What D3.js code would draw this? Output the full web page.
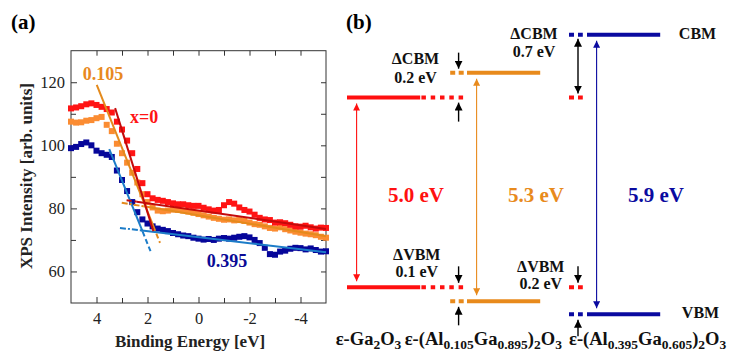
<!DOCTYPE html>
<html>
<head>
<meta charset="utf-8">
<script src="https://cdn.jsdelivr.net/npm/d3@7"></script>
<style>
  body { margin: 0; background: #fff; }
  text { font-family: "Liberation Serif", "Times New Roman", serif; }
</style>
</head>
<body>
<svg id="chart" width="736" height="356"></svg>
<script>
// ---------- panel (a) data: XPS valence band spectra ----------
// binding energy grid (eV)
var energy = [5.0, 4.8, 4.6, 4.4, 4.2, 4.0, 3.8, 3.6, 3.4, 3.2, 3.0, 2.8, 2.6, 2.4, 2.2, 2.0, 1.8, 1.6, 1.4, 1.2,
  1.0, 0.8, 0.6, 0.4, 0.2, 0.0, -0.2, -0.4, -0.6, -0.8, -1.0, -1.2, -1.4, -1.6, -1.8, -2.0, -2.2, -2.4, -2.6, -2.8,
  -3.0, -3.2, -3.4, -3.6, -3.8, -4.0, -4.2, -4.4, -4.6, -4.8, -5.0];

var intensityX0 = [111.7, 112.0, 112.4, 113.0, 113.3, 112.8, 112.2, 111.5, 110.4, 107.5, 105.0, 101.5, 97.5, 92.5, 88.0, 84.5, 83.2, 82.7, 82.4, 82.0,
  81.6, 81.3, 81.3, 81.0, 80.8, 80.8, 80.2, 79.7, 79.3, 79.5, 81.0, 82.0, 81.5, 80.3, 79.5, 79.0, 78.0, 77.0, 76.5, 76.3,
  75.5, 75.6, 75.3, 74.8, 74.3, 74.2, 74.5, 74.0, 73.6, 73.9, 73.8];

var intensityX0105 = [107.5, 107.2, 107.3, 107.8, 108.0, 108.6, 109.0, 106.5, 104.5, 100.5, 97.5, 94.5, 91.3, 88.2, 84.5, 82.0, 80.3, 79.3, 79.1, 79.3,
  79.6, 79.5, 79.3, 79.0, 78.6, 78.2, 77.8, 77.4, 77.0, 76.7, 76.4, 76.5, 76.2, 76.3, 76.0, 75.5, 75.0, 74.8, 74.3, 73.8,
  73.6, 74.0, 73.4, 73.0, 72.6, 72.3, 72.0, 71.8, 71.5, 71.0, 70.7];

var intensityX0395 = [99.1, 99.5, 100.4, 100.9, 100.0, 98.3, 97.5, 97.0, 96.3, 92.0, 89.0, 85.5, 82.0, 78.8, 76.5, 75.2, 74.3, 73.6, 73.2, 72.8,
  72.2, 71.8, 71.4, 71.2, 70.7, 70.4, 70.1, 70.3, 70.0, 70.4, 70.6, 70.4, 70.7, 71.0, 71.2, 70.8, 70.0, 69.0, 67.5, 65.5,
  65.3, 66.3, 66.6, 67.2, 67.5, 67.4, 67.0, 67.3, 66.8, 66.3, 66.4];

// linear fits: [energy, intensity] end points, and where the dashed part starts/ends
var steepStart = [[3.27, 111.8], [3.99, 119.2], [3.50, 98.8]];
var steepEnd = [[1.77, 72.8], [1.51, 69.1], [1.88, 66.4]];
var steepSolidTo = [1.77, 1.77, 2.19];
var flatStart = [[2.82, 82.6], [3.01, 81.8], [3.08, 73.8]];
var flatEnd = [[-5, 73.5], [-5, 71.2], [-5, 66.1]];
var flatSolidFrom = [2.42, 2.16, 2.30];

var seriesLabels = ["x=0", "0.105", "0.395"];
var labelPos = [[2.69, 107.0], [4.54, 120.7], [-0.32, 61.5]];

var xMajor = [4, 2, 0, -2, -4];
var xMinor = [3, 1, -1, -3];
var yMajor = [60, 80, 100, 120];
var yMinor = [70, 90, 110];

// ---------- panel (b) data: band alignment ----------
var bandGap = ["5.0 eV", "5.3 eV", "5.9 eV"];
var cbmLevel = [21.7, 24.2, 28.0];   // schematic level, not to scale
var vbmLevel = [2.7, 1.3, 0.0];
var dCbmText = ["0.2 eV", "0.7 eV"];
var dVbmText = ["0.1 eV", "0.2 eV"];

var markColor = ["#ff1414", "#fb8c32", "#06069a"];
var fitColor = ["#c40a0a", "#e48a1c", "#1c7cc8"];
var textColor = ["#ff1414", "#e8891e", "#0a0a96"];
var bandColor = ["#ff1010", "#e88a1c", "#0a0aa0"];

var svg = d3.select("#chart");

// ========== panel (a) ==========
var x = d3.scaleLinear().domain([5, -5]).range([71, 326]);
var y = d3.scaleLinear().domain([50, 130]).range([303, 50.7]);

svg.append("text").attr("x", 11).attr("y", 29)
  .style("font-size", "21px").style("font-weight", "bold").text("(a)");

function fmt(d) { return String(d); }

// bottom
svg.append("g").attr("transform", "translate(0,303)")
  .call(d3.axisBottom(x).tickValues(xMajor).tickSizeInner(-6).tickSizeOuter(0).tickPadding(9).tickFormat(fmt));
svg.append("g").attr("transform", "translate(0,303)")
  .call(d3.axisBottom(x).tickValues(xMinor).tickSizeInner(-5).tickSizeOuter(0).tickFormat(""));
// top
svg.append("g").attr("transform", "translate(0,50.7)")
  .call(d3.axisTop(x).tickValues(xMajor.concat(xMinor)).tickSizeInner(-5).tickSizeOuter(0).tickFormat(""));
// left
svg.append("g").attr("transform", "translate(71,0)")
  .call(d3.axisLeft(y).tickValues(yMajor).tickSizeInner(-6).tickSizeOuter(0).tickPadding(6).tickFormat(fmt));
svg.append("g").attr("transform", "translate(71,0)")
  .call(d3.axisLeft(y).tickValues(yMinor).tickSizeInner(-5).tickSizeOuter(0).tickFormat(""));
// right
svg.append("g").attr("transform", "translate(326,0)")
  .call(d3.axisRight(y).tickValues(yMajor.concat(yMinor)).tickSizeInner(-5).tickSizeOuter(0).tickFormat(""));

svg.selectAll(".domain").remove();
svg.selectAll(".tick line").attr("stroke", "#333");
svg.selectAll(".tick text").style("font-family", "'Liberation Serif', serif")
  .style("font-size", "16.5px").attr("fill", "#222");

svg.append("rect").attr("x", 71).attr("y", 50.7).attr("width", 255).attr("height", 252.3)
  .attr("fill", "none").attr("stroke", "#333").attr("stroke-width", 1);

// data markers
var allSeries = [intensityX0395, intensityX0105, intensityX0];
var allColors = [markColor[2], markColor[1], markColor[0]];
allSeries.forEach(function(vals, k) {
  svg.append("g").selectAll("rect")
    .data(energy.map(function(e, i) { return [e, vals[i]]; }))
    .enter().append("rect")
    .attr("x", function(d) { return x(d[0]) - 3; })
    .attr("y", function(d) { return y(d[1]) - 3; })
    .attr("width", 6).attr("height", 6)
    .attr("fill", allColors[k]);
});

// fit lines
function along(p0, p1, e) {
  var t = (e - p0[0]) / (p1[0] - p0[0]);
  return [e, p0[1] + t * (p1[1] - p0[1])];
}
function seg(p0, p1, color, dash) {
  svg.append("line")
    .attr("x1", x(p0[0])).attr("y1", y(p0[1]))
    .attr("x2", x(p1[0])).attr("y2", y(p1[1]))
    .attr("stroke", color).attr("stroke-width", 2)
    .attr("stroke-dasharray", dash || null);
}
[2, 1, 0].forEach(function(i) {
  var split = along(steepStart[i], steepEnd[i], steepSolidTo[i]);
  seg(steepStart[i], split, fitColor[i]);
  if (steepSolidTo[i] > steepEnd[i][0]) seg(split, steepEnd[i], fitColor[i], "5,3");
  var fsplit = along(flatStart[i], flatEnd[i], flatSolidFrom[i]);
  seg(flatStart[i], fsplit, fitColor[i], i === 0 ? "5,3" : "6,2,2,2");
  seg(fsplit, flatEnd[i], fitColor[i]);
});

seriesLabels.forEach(function(t, i) {
  svg.append("text").attr("x", x(labelPos[i][0])).attr("y", y(labelPos[i][1]))
    .style("font-size", "18px").style("font-weight", "bold")
    .attr("fill", textColor[i]).text(t);
});

svg.append("text").attr("x", 190).attr("y", 346.5).attr("text-anchor", "middle")
  .style("font-size", "17px").style("font-weight", "bold").attr("fill", "#222")
  .text("Binding Energy [eV]");
svg.append("text").attr("transform", "translate(32,176) rotate(-90)").attr("text-anchor", "middle")
  .style("font-size", "17px").style("font-weight", "bold").attr("fill", "#222")
  .text("XPS Intensity [arb. units]");

// ========== panel (b) ==========
var bx = d3.scaleLinear().domain([0, 3]).range([347, 707]);
var by = d3.scaleLinear().domain([0, 28]).range([314.3, 34.7]);

svg.append("text").attr("x", 346).attr("y", 29)
  .style("font-size", "21px").style("font-weight", "bold").text("(b)");

var defs = svg.append("defs");
function arrowMarker(id, color, w, l) {
  defs.append("marker").attr("id", id)
    .attr("viewBox", "0 0 10 10").attr("refX", 10).attr("refY", 5)
    .attr("markerUnits", "userSpaceOnUse")
    .attr("markerWidth", l).attr("markerHeight", w)
    .attr("orient", "auto-start-reverse")
    .append("path").attr("d", "M0,0L10,5L0,10z").attr("fill", color);
}
bandColor.forEach(function(c, i) { arrowMarker("ah" + i, c, 7, 8); });
arrowMarker("ahk", "#000", 8, 8);

function hline(x1, x2, yy, color, dash) {
  svg.append("line").attr("x1", x1).attr("x2", x2).attr("y1", yy).attr("y2", yy)
    .attr("stroke", color).attr("stroke-width", 4)
    .attr("stroke-dasharray", dash || null);
}

// band edges
[0, 1, 2].forEach(function(i) {
  hline(bx(i), bx(i + 0.61), by(cbmLevel[i]), bandColor[i]);
  hline(bx(i), bx(i + 0.61), by(vbmLevel[i]), bandColor[i]);
});
// dashed continuations
[cbmLevel[0], vbmLevel[0]].forEach(function(l) {
  hline(bx(0.62), bx(0.975), by(l), bandColor[0], "4.5,4.8");
  hline(bx(1.85), bx(1.965), by(l), bandColor[0], "5,4");
});
[cbmLevel[1], vbmLevel[1]].forEach(function(l) {
  hline(bx(0.86), bx(0.975), by(l), bandColor[1], "5,3.5");
});
[cbmLevel[2], vbmLevel[2]].forEach(function(l) {
  hline(bx(1.85), bx(1.965), by(l), bandColor[2], "5,4");
});

// band gap arrows
[0, 1, 2].forEach(function(i) {
  var ax = bx(i + 0.08);
  svg.append("line").attr("x1", ax).attr("x2", ax)
    .attr("y1", by(cbmLevel[i]) + 6).attr("y2", by(vbmLevel[i]) - 6)
    .attr("stroke", bandColor[i]).attr("stroke-width", 1.1)
    .attr("marker-start", "url(#ah" + i + ")").attr("marker-end", "url(#ah" + i + ")");
  svg.append("text").attr("x", bx(i + 0.575)).attr("y", 201.7).attr("text-anchor", "middle")
    .style("font-size", "21px").style("font-weight", "bold")
    .attr("fill", bandColor[i]).text(bandGap[i]);
});

// offset arrows (black)
function karrow(xx, y1, y2, both) {
  var l = svg.append("line").attr("x1", xx).attr("x2", xx).attr("y1", y1).attr("y2", y2)
    .attr("stroke", "#000").attr("stroke-width", 1.4).attr("marker-end", "url(#ahk)");
  if (both) l.attr("marker-start", "url(#ahk)");
}
var ka = bx(0.93), kb = bx(1.925);
karrow(ka, by(cbmLevel[1]) - 20, by(cbmLevel[1]) - 4);
karrow(ka, by(cbmLevel[0]) + 24, by(cbmLevel[0]) + 5);
karrow(ka, by(vbmLevel[0]) - 21, by(vbmLevel[0]) - 4.5);
karrow(ka, by(vbmLevel[1]) + 24, by(vbmLevel[1]) + 5.5);
karrow(kb, by(cbmLevel[2]) + 4, by(cbmLevel[0]) - 4, true);
karrow(kb, by(vbmLevel[0]) - 21, by(vbmLevel[0]) - 4.5);
karrow(kb, by(vbmLevel[2]) + 22, by(vbmLevel[2]) + 5.5);

function label2(xx, y1, y2, a, b) {
  var g = svg.append("g").style("font-size", "16px").style("font-weight", "bold").attr("fill", "#111");
  g.append("text").attr("x", xx).attr("y", y1).attr("text-anchor", "middle").text(a);
  g.append("text").attr("x", xx).attr("y", y2).attr("text-anchor", "middle").text(b);
}
label2(415.5, 64, 82.7, "\u0394CBM", dCbmText[0]);
label2(534, 39, 56.7, "\u0394CBM", dCbmText[1]);
label2(416.8, 260, 277.3, "\u0394VBM", dVbmText[0]);
label2(540.8, 271.7, 289.3, "\u0394VBM", dVbmText[1]);

svg.append("text").attr("x", 697.5).attr("y", 39).attr("text-anchor", "middle")
  .style("font-size", "16px").style("font-weight", "bold").attr("fill", "#111").text("CBM");
svg.append("text").attr("x", 700.5).attr("y", 318.3).attr("text-anchor", "middle")
  .style("font-size", "16px").style("font-weight", "bold").attr("fill", "#111").text("VBM");

// material names with subscripts
var matParts = [
  [["\u03b5-Ga", 0], ["2", 1], ["O", 0], ["3", 1]],
  [["\u03b5-(Al", 0], ["0.105", 1], ["Ga", 0], ["0.895", 1], [")", 0], ["2", 1], ["O", 0], ["3", 1]],
  [["\u03b5-(Al", 0], ["0.395", 1], ["Ga", 0], ["0.605", 1], [")", 0], ["2", 1], ["O", 0], ["3", 1]]
];
var matX = [335.7, 404.7, 569];
matParts.forEach(function(parts, i) {
  var t = svg.append("text").attr("x", matX[i]).attr("y", 344.7)
    .style("font-size", "18.5px").style("font-weight", "bold").attr("fill", "#111");
  var prevSub = 0;
  parts.forEach(function(p) {
    t.append("tspan").attr("dy", p[1] === prevSub ? 0 : (p[1] ? 4 : -4))
      .style("font-size", p[1] ? "13.5px" : "18.5px").text(p[0]);
    prevSub = p[1];
  });
});
</script>
</body>
</html>
